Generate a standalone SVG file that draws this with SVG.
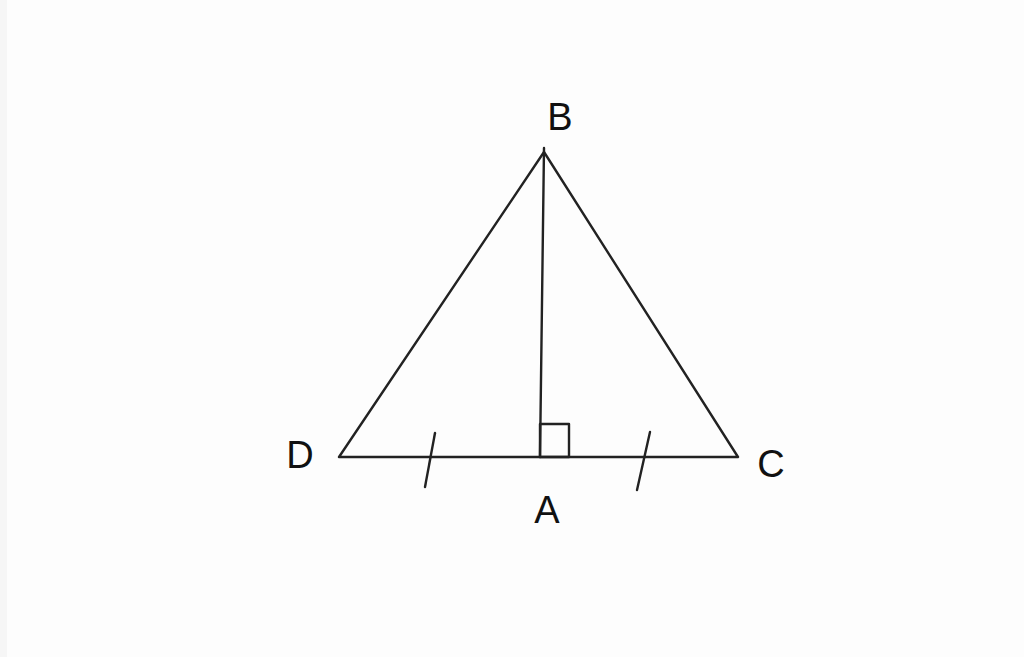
<svg xmlns="http://www.w3.org/2000/svg" width="1024" height="657" viewBox="0 0 1024 657">
<style>
.ln{stroke:#222;stroke-width:2.4;fill:none;stroke-linecap:round;stroke-linejoin:round}
.lb{font-family:"Liberation Sans",Arial,sans-serif;font-size:38px;fill:#111;text-anchor:middle}
</style>
<rect x="0" y="0" width="1024" height="657" fill="#fdfdfd"/>
<rect x="0" y="0" width="7" height="657" fill="#f6f6f6"/>
<g id="connectors">
<polyline class="ln" points="339,457 544,152 738,457 339,457"/>
<line class="ln" x1="544" y1="148" x2="540" y2="457"/>
<line class="ln" x1="435" y1="433" x2="425" y2="487"/>
<line class="ln" x1="650" y1="432" x2="637" y2="490"/>
<rect class="ln" x="540" y="424" width="29" height="33"/>
</g>
<g id="B"><text class="lb" x="560" y="130">B</text></g>
<g id="A"><text class="lb" x="547" y="523">A</text></g>
<g id="D"><text class="lb" x="300" y="468">D</text></g>
<g id="C"><text class="lb" x="771" y="477">C</text></g>
</svg>
